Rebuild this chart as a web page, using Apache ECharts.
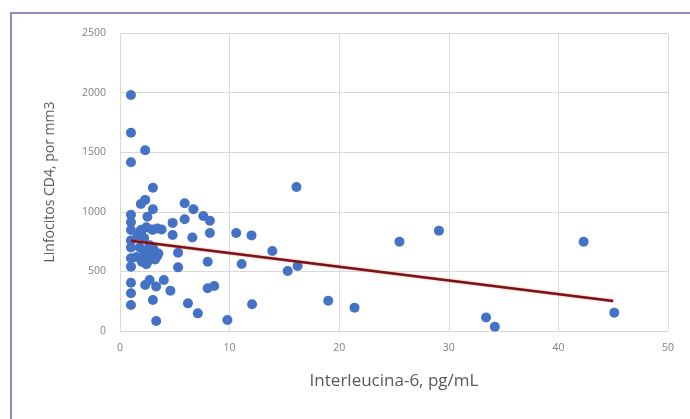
<!DOCTYPE html>
<html>
<head>
<meta charset="utf-8">
<script src="https://cdn.jsdelivr.net/npm/echarts@6/dist/echarts.min.js"></script>
<style>
  html, body { margin: 0; padding: 0; background: #ffffff; }
  #frame { position: absolute; left: 10px; top: 12px; width: 690px; height: 420px;
           border-left: 2px solid #9a86b4; border-top: 2px solid #9a86b4; box-sizing: border-box; }
  #chart { position: absolute; left: 0; top: 0; width: 690px; height: 419px; }
</style>
</head>
<body>
<div id="frame"></div>
<div id="chart"></div>
<script>
// Interleucina-6 (pg/mL) values
const il6 = [
  1.0, 1.0, 1.0, 2.3, 3.0, 16.1, 5.9, 6.7, 3.0, 1.9, 2.3, 1.0, 2.5, 7.6, 8.2, 5.9, 4.8, 1.0,
  1.0, 1.9, 2.9, 3.8, 4.8, 6.6, 8.2, 10.6, 12.0, 13.9, 29.1, 25.5, 42.3,
  1.0, 1.0, 1.0, 1.0, 1.0, 1.0, 1.0,
  3.3, 7.1, 6.2, 3.0, 4.6, 4.0, 2.3, 2.7, 3.3, 8.0, 8.6, 8.0, 5.3, 5.3, 11.1, 15.3, 16.2,
  12.05, 9.8, 19.0, 21.4, 33.4, 34.2, 45.1,
  1.5, 1.8, 2.0, 2.2, 2.5, 2.6, 2.8, 3.0, 3.2, 3.4, 3.5, 2.4, 3.2, 2.0, 2.4, 1.6, 3.0, 3.4, 2.2, 2.7
];
// Linfocitos CD4 (por mm3) values
const cd4 = [
  1980, 1663, 1415, 1516, 1202, 1208, 1071, 1021, 1021, 1065, 1100, 975, 959, 965, 925, 938, 907, 913,
  847, 847, 852, 852, 805, 785, 822, 822, 802, 671, 842, 749, 749,
  760, 700, 610, 540, 405, 316, 218,
  84, 148, 232, 260, 338, 428, 386, 428, 373, 358, 377, 581, 657, 534, 562, 503, 545,
  224, 92, 254, 196, 114, 36, 154,
  620, 700, 580, 640, 680, 590, 620, 700, 660, 630, 650, 560, 600, 850, 870, 800, 850, 860, 780, 720
];
// Trend line end points
const trendX = [1, 45];
const trendY = [757, 252];
const xTicks = [0, 10, 20, 30, 40, 50];
const yTicks = [0, 500, 1000, 1500, 2000, 2500];

const points = il6.map((x, i) => [x, cd4[i]]);
const trend = trendX.map((x, i) => [x, trendY[i]]);

const chart = echarts.init(document.getElementById('chart'));
chart.setOption({
  animation: false,
  grid: { left: 120, right: 22, top: 33, bottom: 88 },
  xAxis: {
    type: 'value', min: xTicks[0], max: xTicks[xTicks.length - 1], interval: 10,
    name: 'Interleucina-6, pg/mL', nameLocation: 'middle', nameGap: 42,
    nameTextStyle: { fontFamily: 'Open Sans', fontSize: 17, color: '#595959' },
    axisLine: { show: true, lineStyle: { color: '#d9d9d9' } },
    axisTick: { show: false },
    axisLabel: { fontFamily: 'Open Sans', fontSize: 10.5, color: '#808080', margin: 12,
                 formatter: v => String(v) },
    splitLine: { show: true, lineStyle: { color: '#d9d9d9', width: 1 } }
  },
  yAxis: {
    type: 'value', min: yTicks[0], max: yTicks[yTicks.length - 1], interval: 500,
    name: 'Linfocitos CD4, por mm3', nameLocation: 'middle', nameGap: 63,
    nameTextStyle: { fontFamily: 'Open Sans', fontSize: 14, color: '#595959' },
    axisLine: { show: false },
    axisTick: { show: false },
    axisLabel: { fontFamily: 'Open Sans', fontSize: 10.5, color: '#808080', margin: 14,
                 formatter: v => String(v) },
    splitLine: { show: true, lineStyle: { color: '#d9d9d9', width: 1 } }
  },
  series: [
    {
      type: 'scatter', data: points, symbolSize: 10,
      itemStyle: { color: '#4472c4', opacity: 1 }
    },
    {
      type: 'line', data: trend, symbol: 'none',
      lineStyle: { color: '#7a1414', width: 2.5, shadowColor: 'rgba(230,60,60,0.6)', shadowBlur: 2 },
      z: 3
    }
  ]
});
</script>
</body>
</html>
